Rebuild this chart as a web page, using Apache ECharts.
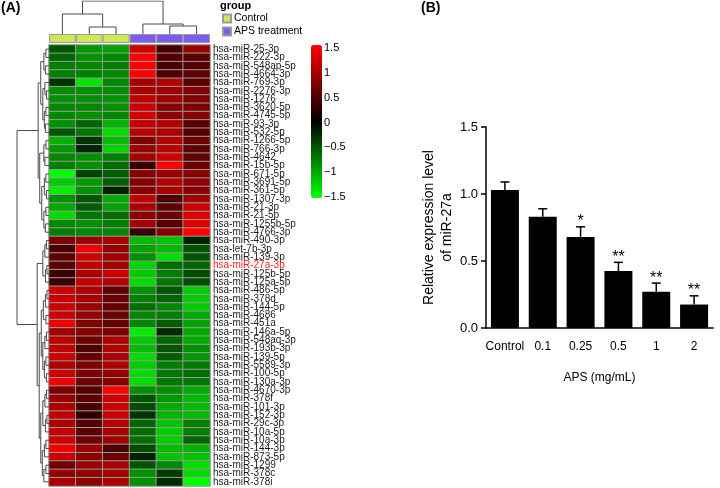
<!DOCTYPE html>
<html><head><meta charset="utf-8">
<script src="https://cdn.jsdelivr.net/npm/echarts@6/dist/echarts.min.js"></script>
<style>html,body{margin:0;padding:0;background:#fff}#c{width:720px;height:488px}</style>
</head><body><div id="c"></div>
<script>
// ---------- Panel A data ----------
const samples = ['C1', 'C2', 'C3', 'A1', 'A2', 'A3'];
const sampleGroups = ['Control', 'Control', 'Control', 'APS treatment', 'APS treatment', 'APS treatment'];
const groupNames = ['Control', 'APS treatment'];
const groupColors = ['#cfe85a', '#7a5cf0'];
const highlightedMiRNA = 'hsa-miR-27a-3p';
const mirnas = [
  'hsa-miR-25-3p','hsa-miR-222-3p','hsa-miR-548ap-5p','hsa-miR-4664-3p','hsa-miR-769-3p','hsa-miR-2276-3p',
  'hsa-miR-1276','hsa-miR-3620-5p','hsa-miR-4745-5p','hsa-miR-93-3p','hsa-miR-532-5p','hsa-miR-1266-5p',
  'hsa-miR-766-3p','hsa-miR-4642','hsa-miR-15b-5p','hsa-miR-671-5p','hsa-miR-3691-5p','hsa-miR-361-5p',
  'hsa-miR-1307-3p','hsa-miR-21-3p','hsa-miR-21-5p','hsa-miR-1255b-5p','hsa-miR-4766-3p',
  'hsa-miR-490-3p','hsa-let-7b-3p','hsa-miR-139-3p','hsa-miR-27a-3p','hsa-miR-125b-5p','hsa-miR-125a-5p',
  'hsa-miR-486-5p','hsa-miR-378d','hsa-miR-144-5p','hsa-miR-4686','hsa-miR-451a','hsa-miR-146a-5p',
  'hsa-miR-548aq-3p','hsa-miR-193b-3p','hsa-miR-139-5p','hsa-miR-5589-3p','hsa-miR-100-5p','hsa-miR-130a-3p',
  'hsa-miR-4670-3p','hsa-miR-378f','hsa-miR-101-3p','hsa-miR-152-3p','hsa-miR-29c-3p','hsa-miR-10a-5p',
  'hsa-miR-10a-3p','hsa-miR-144-3p','hsa-miR-873-5p','hsa-miR-1299','hsa-miR-378c','hsa-miR-378i'
];
const zC1 = [-0.5,-0.6,-0.75,-0.75,-0.3,-0.85,-0.85,-0.8,-0.8,-0.85,-0.5,-1.05,-0.9,-0.8,-0.75,-1.5,-1.2,-1.4,-0.85,-1.0,-1.3,-0.8,-0.75,
  0.75,0.45,0.55,0.55,0.35,0.35,1.2,1.2,1.2,1.2,1.4,0.95,1.1,1.15,1.2,1.0,1.2,1.4,0.75,0.9,1.0,1.15,1.0,1.15,1.2,1.4,1.2,0.65,0.9,1.0];
const zC2 = [-0.9,-0.85,-0.8,-0.75,-1.35,-0.85,-0.85,-0.8,-0.85,-0.6,-0.7,-0.3,-0.2,-0.85,-0.85,-0.4,-0.9,-0.85,-0.5,-0.55,-0.7,-0.85,-0.8,
  0.9,1.4,1.2,1.15,1.0,1.15,1.0,1.0,0.9,0.9,0.75,0.8,0.65,0.45,0.6,0.75,0.75,0.65,0.5,0.55,0.45,0.25,0.5,0.55,0.65,0.9,0.8,0.9,0.85,0.8];
const zC3 = [-0.95,-0.8,-0.75,-0.8,-0.8,-0.85,-0.85,-0.85,-0.8,-1.05,-1.3,-1.1,-1.25,-0.75,-0.65,-0.55,-0.55,-0.2,-1.0,-0.95,-0.65,-0.75,-0.8,
  1.0,0.9,0.95,0.95,1.2,1.05,0.55,0.65,0.6,0.65,0.6,0.75,1.0,1.05,1.0,1.0,0.9,0.8,1.5,1.2,1.2,1.2,1.05,1.0,0.95,0.45,0.65,1.0,0.95,1.0];
const zA1 = [1.2,1.5,1.5,1.5,0.95,1.0,1.1,1.2,1.25,1.15,1.1,0.75,0.9,0.95,0.35,0.8,0.75,0.8,1.15,1.0,0.8,1.0,0.35,
  -1.1,-0.95,-0.85,-1.25,-1.2,-1.3,-0.85,-0.75,-0.65,-0.8,-0.8,-1.4,-1.2,-1.1,-1.3,-1.2,-1.3,-1.3,-0.85,-0.5,-0.45,-0.3,-0.6,-0.65,-0.65,-0.45,-0.2,-0.5,-0.85,-0.85];
const zA2 = [0.4,0.5,0.45,0.45,1.05,0.95,0.95,0.8,0.85,1.05,1.0,1.05,1.1,1.2,1.5,0.9,1.05,1.0,0.45,0.55,0.65,0.5,0.8,
  -1.15,-1.1,-1.3,-0.65,-0.75,-0.7,-0.5,-0.6,-0.8,-0.75,-0.55,-0.25,-0.6,-0.5,-0.55,-0.75,-0.7,-0.7,-0.85,-0.9,-1.0,-1.05,-1.15,-1.2,-1.2,-1.1,-1.15,-0.8,-0.35,-0.25];
const zA3 = [0.9,0.55,0.5,0.55,0.55,0.8,0.75,0.75,0.8,0.55,0.5,0.65,0.55,0.55,0.65,0.8,0.85,0.8,0.95,1.2,1.3,1.3,1.5,
  -0.2,-0.5,-0.5,-0.6,-0.45,-0.45,-1.2,-1.2,-1.2,-1.0,-0.95,-1.0,-1.0,-0.85,-0.9,-0.7,-0.65,-0.7,-1.0,-1.1,-1.1,-1.1,-0.75,-0.75,-0.6,-1.05,-1.15,-1.3,-1.3,-1.5];
// dendrograms: [mergeHeight, left, right]; leaves are indices
const colTree = [33, [20, 0, [7, 1, 2]], [10, 3, [8, 4, 5]]];
const rowTreeTop = [10.5,
  [8, [5, [3, 0, 1], [3.5, 2, 3]], [6, [4, 4, [2.5, 5, 6]], [4.5, [3, 7, 8], [3.5, 9, 10]]]],
  [9, [5, [3, 11, 12], [4, 13, 14]], [7, [4.5, [3, 15, 16], [2.5, 17, 18]], [5, [3, 19, 20], [3.5, 21, 22]]]]];
const rowTreeBottom = [11.5,
  [6, [4, [2.5, 23, 24], 25], [3.5, [2, 26, 27], 28]],
  [9.5, [7.5, [5.5, [3.5, [2, 29, 30], 31], [3, 32, 33]], [6, [4, [2.5, 34, 35], 36], [4.5, [3, 37, 38], [2.5, 39, 40]]]],
        [8, [6, [4, [2.5, 41, 42], 43], [3.5, [2, 44, 45], 46]], [6.5, [4.5, [3, 47, 48], 49], [5, [3, 50, 51], 52]]]]];
const rowTree = [31, rowTreeTop, rowTreeBottom];
const scaleMin = -1.5, scaleMax = 1.5, scaleStep = 0.5;

// ---------- Panel B data ----------
const doses = ['Control', '0.1', '0.25', '0.5', '1', '2'];
const meanExpr = [1.03, 0.83, 0.68, 0.425, 0.27, 0.175];
const semExpr = [0.06, 0.06, 0.075, 0.065, 0.065, 0.065];
const sigMarks = ['', '', '*', '**', '**', '**'];

// ---------- build ----------
const FONT = 'Liberation Sans, Arial, sans-serif';
const columns = [zC1, zC2, zC3, zA1, zA2, zA3];
const heatData = [];
columns.forEach((col, ci) => col.forEach((v, ri) => heatData.push([ci, ri, v])));

function dendroSegments(tree, swap) {
  const segs = [];
  function walk(n) {
    if (typeof n === 'number') return { pos: n + 0.5, h: 0 };
    const a = walk(n[1]), b = walk(n[2]);
    const pts = [[a.pos, a.h], [a.pos, n[0]], [b.pos, n[0]], [b.pos, b.h]];
    segs.push({ coords: swap ? pts.map(p => [p[1], p[0]]) : pts });
    return { pos: (a.pos + b.pos) / 2, h: n[0] };
  }
  walk(tree);
  return segs;
}

const hidden = { show: false };
const chart = echarts.init(document.getElementById('c'), null, { renderer: 'canvas' });
const option = {
  animation: false,
  backgroundColor: '#fff',
  textStyle: { fontFamily: FONT },
  title: [
    { text: '(A)', left: 1, top: 1, padding: 0, textStyle: { fontSize: 14, fontWeight: 'bold', color: '#000', fontFamily: FONT } },
    { text: '(B)', left: 421, top: 1, padding: 0, textStyle: { fontSize: 14, fontWeight: 'bold', color: '#000', fontFamily: FONT } },
    { text: 'group', left: 220, top: 0, padding: 0, textStyle: { fontSize: 11, fontWeight: 'bold', color: '#000', fontFamily: FONT } }
  ],
  legend: {
    data: groupNames, orient: 'vertical', left: 222, top: 13, padding: 0,
    itemWidth: 8, itemHeight: 8, itemGap: 2, icon: 'rect', selectedMode: false,
    textStyle: { fontSize: 10.5, lineHeight: 10, color: '#000', fontFamily: FONT, padding: [0, 0, 0, -2] }
  },
  grid: [
    { left: 49, top: 45, width: 161, height: 441 },   // 0 heatmap
    { left: 49, top: 1, width: 161, height: 33 },     // 1 column dendrogram
    { left: 16, top: 45, width: 33, height: 441 },    // 2 row dendrogram
    { left: 49, top: 34, width: 161, height: 9 },     // 3 group annotation
    { left: 321, top: 48, width: 1, height: 149 },    // 4 colour key labels
    { left: 486, top: 127, width: 227, height: 201 }  // 5 bar chart
  ],
  xAxis: [
    { gridIndex: 0, type: 'category', data: samples, show: false },
    { gridIndex: 1, type: 'value', min: 0, max: samples.length, show: false },
    { gridIndex: 2, type: 'value', min: 0, max: 32, inverse: true, show: false },
    { gridIndex: 3, type: 'category', data: samples, show: false },
    { gridIndex: 4, type: 'value', show: false },
    {
      gridIndex: 5, type: 'category', data: doses,
      axisLine: { lineStyle: { color: '#000', width: 1.5 } },
      axisTick: { alignWithLabel: true, interval: 0, length: 5, lineStyle: { color: '#000', width: 1.5 } },
      axisLabel: { interval: 0, fontSize: 12, color: '#000', margin: 13, fontFamily: FONT },
      name: 'APS (mg/mL)', nameLocation: 'middle', nameGap: 44,
      nameTextStyle: { fontSize: 12, color: '#000', fontFamily: FONT }
    }
  ],
  yAxis: [
    {
      gridIndex: 0, type: 'category', data: mirnas, inverse: true, position: 'right',
      axisLine: hidden, axisTick: hidden,
      axisLabel: {
        interval: 0, fontSize: 10, margin: 3, fontFamily: FONT,
        color: (v) => v === highlightedMiRNA ? '#ff2020' : '#1a1a1a'
      }
    },
    { gridIndex: 1, type: 'value', min: 0, max: 33, show: false },
    { gridIndex: 2, type: 'value', min: 0, max: mirnas.length, inverse: true, show: false },
    { gridIndex: 3, type: 'value', min: 0, max: 1, show: false },
    {
      gridIndex: 4, type: 'value', min: scaleMin, max: scaleMax, interval: scaleStep, position: 'right',
      axisLine: hidden, axisTick: hidden, splitLine: hidden,
      axisLabel: {
        fontSize: 11, color: '#000', margin: 2, fontFamily: FONT,
        formatter: (v) => (v < 0 ? '\u2212' : '') + Math.abs(v)
      }
    },
    {
      gridIndex: 5, type: 'value', min: 0, max: 1.5, interval: 0.5,
      axisLine: { show: true, lineStyle: { color: '#000', width: 1.5 } },
      axisTick: { show: true, length: 5, lineStyle: { color: '#000', width: 1.5 } },
      splitLine: hidden,
      axisLabel: { fontSize: 13, color: '#000', margin: 8, formatter: (v) => v.toFixed(1), fontFamily: FONT },
      name: 'Relative expression level\nof miR-27a', nameLocation: 'middle', nameGap: 30,
      nameTextStyle: { fontSize: 14, color: '#000', lineHeight: 18, fontFamily: FONT }
    }
  ],
  visualMap: {
    type: 'continuous', min: scaleMin, max: scaleMax, seriesIndex: 0,
    calculable: false, hoverLink: false, padding: 0,
    left: 311, top: 45, itemWidth: 11, itemHeight: 153,
    formatter: () => '',
    inRange: { color: ['#00ff00', '#000000', '#ff0000'] }
  },
  series: [
    {
      type: 'heatmap', xAxisIndex: 0, yAxisIndex: 0, data: heatData,
      itemStyle: { borderColor: '#9a9a9a', borderWidth: 1 },
      emphasis: { disabled: true }
    },
    {
      type: 'lines', coordinateSystem: 'cartesian2d', xAxisIndex: 1, yAxisIndex: 1, polyline: true,
      data: dendroSegments(colTree, false), silent: true,
      lineStyle: { color: '#4a4a4a', width: 1, opacity: 1 }
    },
    {
      type: 'lines', coordinateSystem: 'cartesian2d', xAxisIndex: 2, yAxisIndex: 2, polyline: true,
      data: dendroSegments(rowTree, true), silent: true,
      lineStyle: { color: '#4a4a4a', width: 1, opacity: 1 }
    },
    ...groupNames.map((g, gi) => ({
      name: g, type: 'bar', xAxisIndex: 3, yAxisIndex: 3, barWidth: '100%', barGap: '-100%',
      data: sampleGroups.map(s => s === g ? 1 : '-'),
      itemStyle: { color: groupColors[gi], borderColor: '#9a9a9a', borderWidth: 1 },
      emphasis: { disabled: true }, silent: true
    })),
    {
      type: 'bar', xAxisIndex: 5, yAxisIndex: 5, data: meanExpr, barWidth: 28,
      itemStyle: { color: '#000' }, emphasis: { disabled: true }, silent: true, z: 2
    },
    {
      type: 'custom', xAxisIndex: 5, yAxisIndex: 5, z: 3, silent: true,
      data: meanExpr.map((m, i) => [i, m, semExpr[i]]),
      renderItem: (params, api) => {
        const i = api.value(0), m = api.value(1), e = api.value(2);
        const b = api.coord([i, m]);
        const t = api.coord([i, m + e]);
        const st = { stroke: '#000', lineWidth: 1.5 };
        const children = [
          { type: 'line', shape: { x1: b[0], y1: b[1], x2: t[0], y2: t[1] }, style: st },
          { type: 'line', shape: { x1: t[0] - 4.5, y1: t[1], x2: t[0] + 4.5, y2: t[1] }, style: st }
        ];
        const s = sigMarks[params.dataIndex];
        if (s) children.push({
          type: 'text', x: t[0], y: t[1] - 5,
          style: { text: s, fill: '#000', font: '16px ' + FONT, align: 'center', verticalAlign: 'middle' }
        });
        return { type: 'group', children };
      }
    }
  ]
};
chart.setOption(option);
</script>
</body></html>
